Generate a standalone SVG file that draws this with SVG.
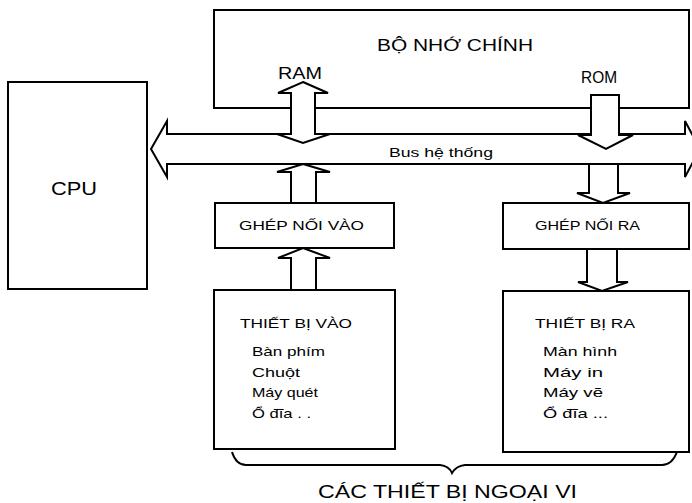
<svg xmlns="http://www.w3.org/2000/svg" width="692" height="503" viewBox="0 0 692 503">
<style>
.box{fill:#fff;stroke:#000;stroke-width:2}
.arr{fill:#fff;stroke:#000;stroke-width:2;stroke-linejoin:miter}
.ln{fill:none;stroke:#000;stroke-width:2}
text{font-family:"Liberation Sans",Arial,sans-serif;fill:#000}
.t12{font-size:12.5px}
.t13{font-size:13px}
.t16{font-size:16px}
.t18{font-size:18px}
</style>
<rect width="692" height="503" fill="#fff"/>
<g id="memory">
<rect class="box" x="214" y="10" width="475" height="98"/>
<text class="t16" x="377" y="51" textLength="156" lengthAdjust="spacingAndGlyphs">BỘ NHỚ CHÍNH</text>
<text class="t16" x="278" y="79" textLength="44" lengthAdjust="spacingAndGlyphs">RAM</text>
<text class="t16" x="581" y="83" textLength="36" lengthAdjust="spacingAndGlyphs">ROM</text>
</g>
<g id="cpu">
<rect class="box" x="8" y="82" width="139" height="207"/>
<text class="t18" x="51" y="195" textLength="46" lengthAdjust="spacingAndGlyphs">CPU</text>
</g>
<g id="ghep-noi-vao">
<rect class="box" x="215" y="203" width="179" height="45"/>
<text class="t13" x="239" y="230" textLength="125" lengthAdjust="spacingAndGlyphs">GHÉP NỐI VÀO</text>
</g>
<g id="ghep-noi-ra">
<rect class="box" x="503" y="203" width="186" height="46"/>
<text class="t13" x="535" y="230" textLength="105" lengthAdjust="spacingAndGlyphs">GHÉP NỐI RA</text>
</g>
<g id="thiet-bi-vao">
<rect class="box" x="214" y="290" width="181" height="159"/>
<text class="t12" x="240" y="328" textLength="112" lengthAdjust="spacingAndGlyphs">THIẾT BỊ VÀO</text>
<text class="t13" x="252" y="356" textLength="73" lengthAdjust="spacingAndGlyphs">Bàn phím</text>
<text class="t13" x="252" y="377" textLength="48" lengthAdjust="spacingAndGlyphs">Chuột</text>
<text class="t13" x="252" y="397" textLength="66" lengthAdjust="spacingAndGlyphs">Máy quét</text>
<text class="t13" x="252" y="418" textLength="59" lengthAdjust="spacingAndGlyphs">Ổ đĩa . .</text>
</g>
<g id="thiet-bi-ra">
<rect class="box" x="503" y="291" width="186" height="161"/>
<text class="t12" x="535" y="328" textLength="100" lengthAdjust="spacingAndGlyphs">THIẾT BỊ RA</text>
<text class="t13" x="543" y="356" textLength="74" lengthAdjust="spacingAndGlyphs">Màn hình</text>
<text class="t13" x="543" y="377" textLength="60" lengthAdjust="spacingAndGlyphs">Máy in</text>
<text class="t13" x="543" y="397" textLength="60" lengthAdjust="spacingAndGlyphs">Máy vẽ</text>
<text class="t13" x="543" y="418" textLength="65" lengthAdjust="spacingAndGlyphs">Ổ  đĩa ...</text>
</g>
<g id="connectors">
<polygon id="bus" class="arr" points="151,149 167,121 167,134 685,134 685,121 700,149 685,177 685,164 167,164 167,177"/>
<text class="t12" x="389" y="157" textLength="104" lengthAdjust="spacingAndGlyphs">Bus hệ thống</text>
<polygon id="ram-bus" class="arr" points="303,82 328,93 315,93 315,134 330,134 303,143 277,134 291,134 291,93 278,93"/>
<polygon id="rom-bus" class="arr" points="591,95 619,95 619,135 633,135 606,149 578,135 591,135"/>
<polygon id="vao-bus" class="arr" points="303,164 330,172 316,172 316,203 291,203 291,172 277,172"/>
<polygon id="bus-ra" class="arr" points="589,164 618,164 618,193 630,193 603,203 577,193 589,193"/>
<polygon id="tbvao-vao" class="arr" points="303,248 330,258 316,258 316,290 291,290 291,258 278,258"/>
<polygon id="ra-tbra" class="arr" points="587,249 617,249 617,282 628,282 602,291 578,282 587,282"/>
<line class="ln" x1="168" y1="164" x2="685" y2="164"/>
</g>
<g id="peripherals">
<path class="ln" d="M232,452 Q236,465 246,465 L440,465 Q449,466 452,473 Q456,466 465,465 L662,465 Q672,465 677,452"/>
<text class="t18" x="318" y="498" textLength="259" lengthAdjust="spacingAndGlyphs">CÁC THIẾT BỊ NGOẠI VI</text>
</g>
</svg>
